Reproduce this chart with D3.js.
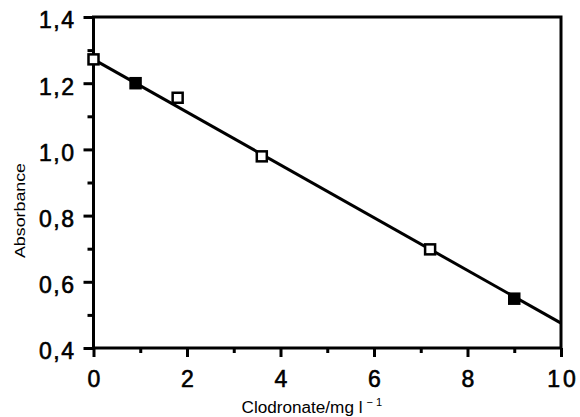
<!DOCTYPE html>
<html><head><meta charset="utf-8">
<script src="https://cdn.jsdelivr.net/npm/d3@7"></script>
<style>body{margin:0;background:#fff}svg{display:block}text{font-family:"Liberation Sans",Arial,sans-serif;fill:#000}</style>
</head><body>
<svg id="c" width="580" height="417"></svg>
<script>
const xValues = [0, 0.9, 1.8, 3.6, 7.2, 9.0];
const yValues = [1.272, 1.200, 1.156, 0.979, 0.698, 0.549];
const filled = [false, true, false, false, false, true];
const fitIntercept = 1.272;
const fitSlope = -0.0797;
const xTicks = [0, 2, 4, 6, 8, 10];
const xMinor = [1, 3, 5, 7, 9];
const yTicks = [0.4, 0.6, 0.8, 1.0, 1.2, 1.4];
const yMinor = [0.5, 0.7, 0.9, 1.1, 1.3];
const xTitle = "Clodronate/mg l";
const yTitle = "Absorbance";

const svg = d3.select("#c");
const L = 93.5, R = 561, T = 17, B = 348;
const x = d3.scaleLinear().domain([0, 10]).range([L, R]);
const y = d3.scaleLinear().domain([0.4, 1.4]).range([B, T]);
const fmt = d => d3.format(".1f")(d).replace(".", ",");

// frame
svg.append("rect").attr("x", L).attr("y", T).attr("width", R - L).attr("height", B - T)
  .attr("fill", "none").attr("stroke", "#000").attr("stroke-width", 3);

function styleText(sel) {
  sel.attr("font-size", 23).style("font-family", "Liberation Sans, Arial, sans-serif")
    .attr("stroke", "#000").attr("stroke-width", 0.6).attr("fill", "#000");
}

// x axis
const gx = svg.append("g").attr("transform", `translate(0,${B})`)
  .call(d3.axisBottom(x).tickValues(xTicks).tickSize(9).tickPadding(14).tickFormat(d3.format("d")));
gx.select(".domain").remove();
gx.selectAll("line").attr("stroke", "#000").attr("stroke-width", 3);
gx.selectAll("text").call(styleText).attr("letter-spacing", 3).attr("dx", 1.5);
const gxm = svg.append("g").attr("transform", `translate(0,${B})`)
  .call(d3.axisBottom(x).tickValues(xMinor).tickSize(5).tickFormat(""));
gxm.select(".domain").remove();
gxm.selectAll("line").attr("stroke", "#000").attr("stroke-width", 3);

// y axis
const gy = svg.append("g").attr("transform", `translate(${L},0)`)
  .call(d3.axisLeft(y).tickValues(yTicks).tickSize(10).tickPadding(8).tickFormat(fmt));
gy.select(".domain").remove();
gy.selectAll("line").attr("stroke", "#000").attr("stroke-width", 3);
gy.selectAll("text").call(styleText).attr("letter-spacing", 1.5).attr("dy", "0.47em");
const gym = svg.append("g").attr("transform", `translate(${L},0)`)
  .call(d3.axisLeft(y).tickValues(yMinor).tickSize(6).tickFormat(""));
gym.select(".domain").remove();
gym.selectAll("line").attr("stroke", "#000").attr("stroke-width", 3);

// fit line
svg.append("line")
  .attr("x1", x(0)).attr("y1", y(fitIntercept))
  .attr("x2", x(10)).attr("y2", y(fitIntercept + fitSlope * 10))
  .attr("stroke", "#000").attr("stroke-width", 3);

// markers
const s = 10;
svg.append("g").selectAll("rect").data(xValues).join("rect")
  .attr("x", (d, i) => x(d) - s / 2).attr("y", (d, i) => y(yValues[i]) - s / 2)
  .attr("width", s).attr("height", s)
  .attr("fill", (d, i) => filled[i] ? "#000" : "#fff")
  .attr("stroke", "#000").attr("stroke-width", 2.5);

// titles
const xt = svg.append("text").attr("x", 241.5).attr("y", 413).attr("font-size", 16);
xt.append("tspan").attr("textLength", 121).attr("lengthAdjust", "spacingAndGlyphs").text(xTitle);
xt.append("tspan").attr("dy", -7).attr("font-size", 11).attr("dx", 4).text("− 1");
svg.append("text").attr("transform", "translate(25,210.5) rotate(-90)").attr("text-anchor", "middle")
  .attr("font-size", 15).attr("textLength", 95).attr("lengthAdjust", "spacingAndGlyphs").text(yTitle);
</script>
</body></html>
